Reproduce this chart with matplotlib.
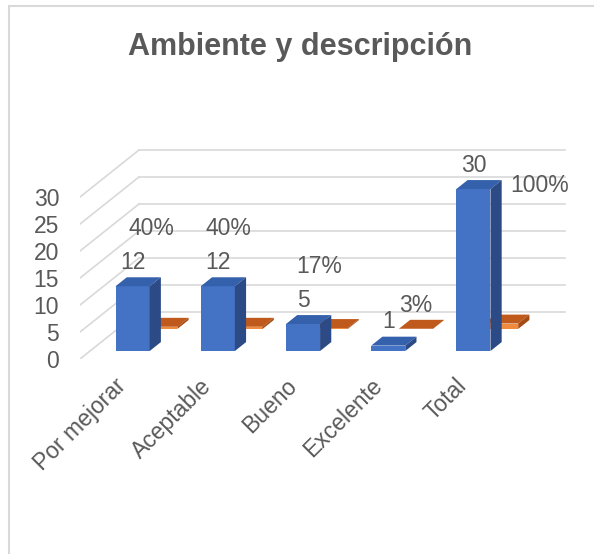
import matplotlib.pyplot as plt
from matplotlib.patches import Polygon, Rectangle

plt.rcParams['font.family'] = ['Liberation Sans', 'DejaVu Sans']

categories = ['Por mejorar', 'Aceptable', 'Bueno', 'Excelente', 'Total']
counts = [12, 12, 5, 1, 30]
shares = [0.40, 0.40, 0.17, 0.03, 1.00]
share_labels = ['40%', '40%', '17%', '3%', '100%']
yticks = [0, 5, 10, 15, 20, 25, 30]

# label nudges (pixels) for the percentage labels, as placed in the original
pct_offsets = [(-9, 98), (-17, 98), (-12, 62), (0, 23), (38, 138)]

TXT = '#595959'
GRID = '#d9d9d9'
W, H = 594, 554

# pseudo-3d geometry, in pixels
slot = 85.2          # px per category
vpx = 5.4            # px per value unit
depth_dx, depth_dy = 59.0, 47.0
DX = depth_dx / slot
DY = depth_dy / vpx
bar_w = 0.4

fig = plt.figure(figsize=(W / 100, H / 100), dpi=100)
left_px, right_px, base_px, top_px = 80, 585, 359, 140
ax = fig.add_axes([left_px / W, (H - base_px) / H,
                   (right_px - left_px) / W, (base_px - top_px) / H])
ax.set_xlim(-0.5, -0.5 + (right_px - left_px) / slot)
ax.set_ylim(0, (base_px - top_px) / vpx)
ax.set_frame_on(False)

# walls: side diagonals + back gridlines
x_back_end = -0.5 + len(categories)
for v in yticks:
    ax.plot([-0.5, -0.5 + DX], [v, v + DY], color=GRID, lw=1.2, zorder=1)
    ax.plot([-0.5 + DX, x_back_end + DX], [v + DY, v + DY], color=GRID, lw=1.2, zorder=1)


def bar3d(xc, v, d0, d1, front, top, side, z):
    xl = xc - bar_w / 2 + DX * d0
    y0 = DY * d0
    ox, oy = DX * (d1 - d0), DY * (d1 - d0)
    ax.add_patch(Rectangle((xl, y0), bar_w, v, fc=front, ec='none', zorder=z))
    ax.add_patch(Polygon([(xl, y0 + v), (xl + bar_w, y0 + v),
                          (xl + bar_w + ox, y0 + v + oy), (xl + ox, y0 + v + oy)],
                         closed=True, fc=top, ec='none', zorder=z))
    ax.add_patch(Polygon([(xl + bar_w, y0), (xl + bar_w, y0 + v),
                          (xl + bar_w + ox, y0 + v + oy), (xl + bar_w + ox, y0 + oy)],
                         closed=True, fc=side, ec='none', zorder=z))
    return xl + bar_w / 2, y0 + v


# back row: shares (orange)
for i, s in enumerate(shares):
    cx, ty = bar3d(i, s, 0.64, 0.83, '#f08a3c', '#c05a1c', '#a54b14', 2 + i * 0.01)
    ax.annotate(share_labels[i], (cx, ty), xytext=pct_offsets[i],
                textcoords='offset pixels', ha='center', va='center',
                fontsize=16.5, color=TXT, zorder=5)

# front row: counts (blue)
for i, c in enumerate(counts):
    cx, ty = bar3d(i, c, 0.17, 0.36, '#4472c4', '#3560ac', '#2b4a86', 3 + i * 0.01)
    ax.annotate(str(c), (cx, ty), xytext=(0, 24), textcoords='offset pixels',
                ha='center', va='center', fontsize=16.5, color=TXT, zorder=5)

ax.set_yticks(yticks)
ax.set_yticklabels([str(t) for t in yticks], fontsize=16.5, color=TXT)
ax.set_xticks(range(len(categories)))
ax.set_xticklabels(categories, fontsize=16.5, color=TXT, rotation=45,
                   ha='right', va='center', rotation_mode='anchor')
ax.tick_params(axis='y', length=0, pad=15)
ax.tick_params(axis='x', length=0, pad=17)

fig.text(300 / W, 1 - 55 / H, 'Ambiente y descripción', ha='center',
         va='baseline', fontsize=22, fontweight='bold', color=TXT)

# chart frame
fig.add_artist(Rectangle((9 / W, -0.1), 1.2, 1 - 6 / H + 0.1,
                         transform=fig.transFigure, fill=False,
                         ec=GRID, lw=1.5))

plt.savefig('out.png', dpi=100)
